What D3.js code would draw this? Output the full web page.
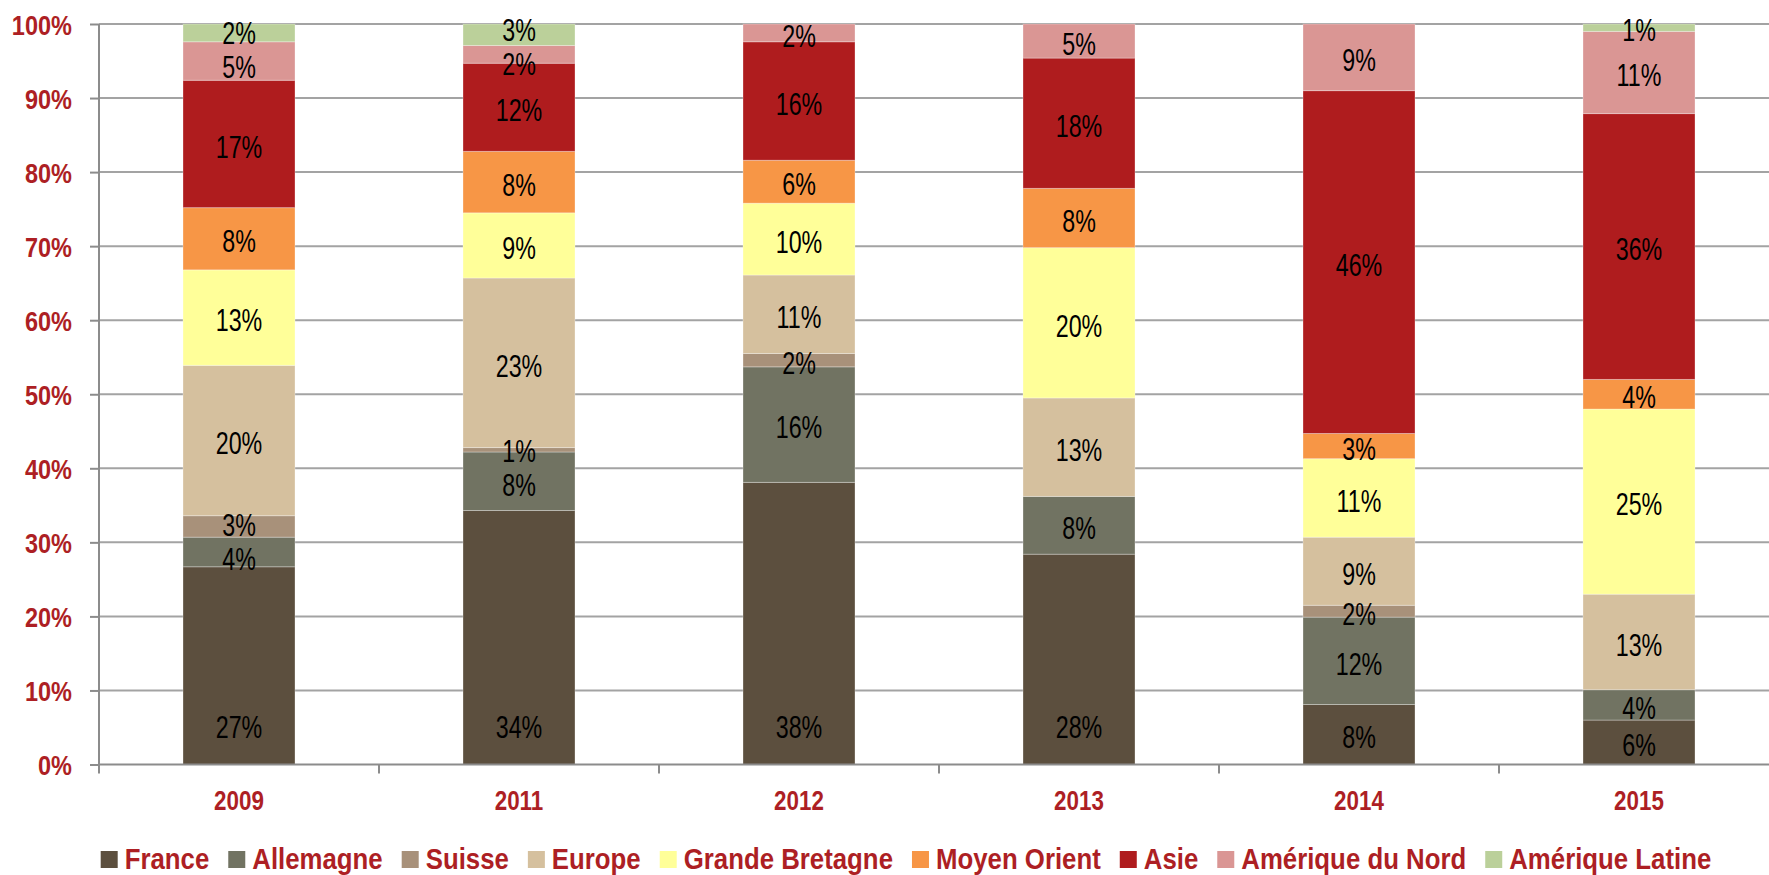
<!DOCTYPE html>
<html>
<head>
<meta charset="utf-8">
<script src="https://cdn.jsdelivr.net/npm/d3@7"></script>
<style>
    body { margin: 0; background: #fff; }
    svg { display: block; }
</style>
</head>
<body>
<div id="chart"></div>
<script>
// share of each region per year (%)
const years = ['2009', '2011', '2012', '2013', '2014', '2015'];
const regions = ['France', 'Allemagne', 'Suisse', 'Europe', 'Grande Bretagne',
    'Moyen Orient', 'Asie', 'Amérique du Nord', 'Amérique Latine'];
const france         = [26.7, 34.3, 38.1, 28.4,  8.1,  6.0];
const allemagne      = [ 4.0,  7.9, 15.6,  7.8, 11.8,  4.1];
const suisse         = [ 2.9,  0.6,  1.8,  0.0,  1.6,  0.0];
const europe         = [20.3, 22.9, 10.6, 13.3,  9.2, 12.9];
const grandeBretagne = [12.9,  8.8,  9.7, 20.3, 10.6, 25.0];
const moyenOrient    = [ 8.4,  8.3,  5.8,  8.0,  3.4,  4.0];
const asie           = [17.2, 11.9, 16.0, 17.6, 46.3, 35.9];
const ameriqueNord   = [ 5.2,  2.4,  2.4,  4.6,  9.0, 11.1];
const ameriqueLatine = [ 2.4,  2.9,  0.0,  0.0,  0.0,  1.0];
const yTicks = [0, 10, 20, 30, 40, 50, 60, 70, 80, 90, 100];

const series = [france, allemagne, suisse, europe, grandeBretagne,
    moyenOrient, asie, ameriqueNord, ameriqueLatine];
const colors = ['#5C4F3E', '#717362', '#A8917A', '#D5C09E', '#FFFF99',
    '#F79646', '#AF1C1E', '#DA9694', '#BBD09A'];
const red = '#AD1F24';
const font = '"Liberation Sans", Arial, sans-serif';

const width = 1769, height = 875;
const svg = d3.select('#chart').append('svg')
    .attr('width', width)
    .attr('height', height);

// no narrow font installed, so squeeze the text horizontally
function narrowText(sel, sx) {
    return sel.attr('transform', d => `translate(${d._x},${d._y}) scale(${sx},1)`);
}

// rows for d3.stack
let table = years.map((y, i) => {
    let row = { year: y };
    regions.forEach((r, k) => row[r] = series[k][i]);
    return row;
});
let stacked = d3.stack().keys(regions)(table);

let xScale = d3.scaleBand()
    .domain(years)
    .range([99, 99 + 280 * years.length])
    .padding(0);
let yScale = d3.scaleLinear()
    .domain([0, 100])
    .range([764.5, 24]);

// gridlines
svg.append('g')
    .selectAll('line')
    .data(yTicks.filter(t => t > 0))
    .enter()
    .append('line')
    .attr('x1', 99)
    .attr('x2', width)
    .attr('y1', d => yScale(d))
    .attr('y2', d => yScale(d))
    .style('stroke', '#A3A3A3')
    .style('stroke-width', 2);

// y axis
let yAxis = d3.axisLeft(yScale)
    .tickValues(yTicks)
    .tickSize(9)
    .tickFormat('');
let gy = svg.append('g')
    .attr('transform', 'translate(99,0)')
    .call(yAxis);
gy.select('.domain').remove();
gy.append('line')
    .attr('x1', 0).attr('x2', 0)
    .attr('y1', yScale(100)).attr('y2', yScale(0))
    .style('stroke', '#8C8C8C')
    .style('stroke-width', 2);
gy.selectAll('.tick line')
    .style('stroke', '#8C8C8C')
    .style('stroke-width', 2);
svg.append('g')
    .selectAll('text')
    .data(yTicks.map(t => ({ t: t, _x: 72, _y: yScale(t) + 1 })))
    .enter()
    .append('text')
    .call(narrowText, 0.84)
    .attr('text-anchor', 'end')
    .attr('dominant-baseline', 'central')
    .text(d => d.t + '%')
    .style('font-family', font)
    .style('font-weight', 'bold')
    .style('font-size', '28px')
    .style('fill', red);

// bars
const barW = xScale.bandwidth() * 0.4;
let layers = svg.append('g')
    .selectAll('g')
    .data(stacked)
    .enter()
    .append('g')
    .style('fill', (d, i) => colors[i]);
layers.selectAll('rect')
    .data(d => d)
    .enter()
    .append('rect')
    .attr('x', d => xScale(d.data.year) + (xScale.bandwidth() - barW) / 2)
    .attr('width', barW)
    .attr('y', d => yScale(d[1]))
    .attr('height', d => yScale(d[0]) - yScale(d[1]))
    .style('stroke', 'rgba(255,255,255,0.3)')
    .style('stroke-width', 1);

// x axis (ticks sit between the categories)
let gx = svg.append('g');
gx.append('line')
    .attr('x1', 99).attr('x2', width)
    .attr('y1', yScale(0)).attr('y2', yScale(0))
    .style('stroke', '#8C8C8C')
    .style('stroke-width', 2);
gx.selectAll('.xtick')
    .data(years)
    .enter()
    .append('line')
    .attr('class', 'xtick')
    .attr('x1', d => xScale(d)).attr('x2', d => xScale(d))
    .attr('y1', yScale(0)).attr('y2', yScale(0) + 9)
    .style('stroke', '#8C8C8C')
    .style('stroke-width', 2);
gx.selectAll('.xlabel')
    .data(years.map(y => ({ y: y, _x: xScale(y) + xScale.bandwidth() / 2, _y: 810 })))
    .enter()
    .append('text')
    .attr('class', 'xlabel')
    .call(narrowText, 0.8)
    .attr('text-anchor', 'middle')
    .text(d => d.y)
    .style('font-family', font)
    .style('font-weight', 'bold')
    .style('font-size', '28px')
    .style('fill', red);

// data labels: centred, France at the inside base, then nudged apart when crowded
let labels = [];
years.forEach((yr, j) => {
    let col = [];
    stacked.forEach((layer, k) => {
        let p = layer[j];
        if (p[1] - p[0] <= 0) return;
        let c = (yScale(p[0]) + yScale(p[1])) / 2;
        if (k === 0) c = Math.max(c, yScale(0) - 40);
        col.push({ txt: Math.round(p[1] - p[0]) + '%', _x: xScale(yr) + xScale.bandwidth() / 2, _y: c });
    });
    col.sort((a, b) => a._y - b._y);
    const minGap = 34;
    for (let it = 0; it < 20; it++) {
        for (let i = 1; i < col.length; i++) {
            let gap = col[i]._y - col[i - 1]._y;
            if (gap < minGap) {
                let push = (minGap - gap) / 2;
                col[i - 1]._y -= push;
                col[i]._y += push;
            }
        }
    }
    col.forEach(o => o._y += 3);
    labels = labels.concat(col);
});
svg.append('g')
    .selectAll('text')
    .data(labels)
    .enter()
    .append('text')
    .call(narrowText, 0.75)
    .attr('text-anchor', 'middle')
    .attr('dominant-baseline', 'central')
    .text(d => d.txt)
    .style('font-family', font)
    .style('font-size', '31px')
    .style('fill', '#000');

// legend
const legendScale = 0.86;
let legend = svg.append('g');
let items = legend.selectAll('g')
    .data(regions)
    .enter()
    .append('g');
items.append('rect')
    .attr('x', 0)
    .attr('y', 851)
    .attr('width', 17)
    .attr('height', 17)
    .style('fill', (d, i) => colors[i]);
items.append('text')
    .attr('transform', `translate(24,869) scale(${legendScale},1)`)
    .text(d => d)
    .style('font-family', font)
    .style('font-weight', 'bold')
    .style('font-size', '30px')
    .style('fill', red);
let offset = 0;
let offsets = [];
items.each(function () {
    offsets.push(offset);
    offset += 24 + d3.select(this).select('text').node().getComputedTextLength() * legendScale + 19;
});
let legendW = offset - 19;
let startX = 906 - legendW / 2;
items.attr('transform', (d, i) => `translate(${startX + offsets[i]},0)`);
</script>
</body>
</html>
